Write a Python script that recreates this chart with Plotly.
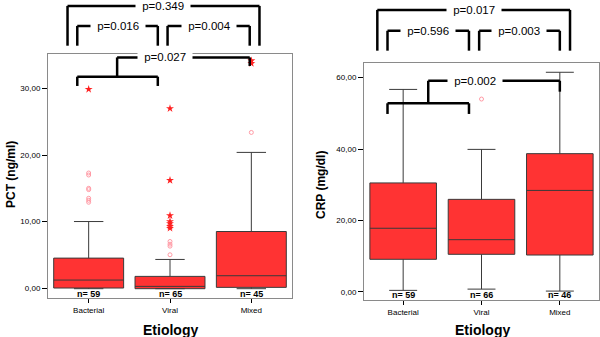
import plotly.graph_objects as go

# ---------------- data ----------------
categories = ["Bacterial", "Viral", "Mixed"]
cat_pos = [0, 1, 2]

pct_q1 = [0.0, -0.1, 0.1]
pct_median = [1.2, 0.25, 1.85]
pct_q3 = [4.5, 1.75, 8.5]
pct_lower = [-0.1, -0.1, -0.1]
pct_upper = [10.0, 4.3, 20.4]
pct_n = ["n= 59", "n= 65", "n= 45"]

pct_mild_bacterial = [12.9, 13.2, 13.5, 14.8, 15.0, 17.0, 17.3]
pct_mild_viral = [5.0, 6.3, 6.6, 7.0]
pct_mild_mixed = [23.4]
pct_ext_bacterial = [29.9]
pct_ext_viral = [9.0, 9.3, 9.7, 10.0, 10.9, 16.2, 27.0]
pct_ext_mixed = [33.8, 34.2]

crp_q1 = [9.1, 10.5, 10.3]
crp_median = [17.8, 14.6, 28.4]
crp_q3 = [30.5, 25.9, 38.7]
crp_lower = [0.4, 0.75, 0.2]
crp_upper = [56.7, 39.9, 61.5]
crp_n = ["n= 59", "n= 66", "n= 46"]
crp_mild_viral = [54.0]

pct_ticks = [0, 10, 20, 30]
pct_ticktext = ["0,00", "10,00", "20,00", "30,00"]
crp_ticks = [0, 20, 40, 60]
crp_ticktext = ["0,00", "20,00", "40,00", "60,00"]

# brackets: (x0, x1, y_line, y_leg, label)  x in category units, y in axis-domain units
pct_brackets = [(-0.26, 2.10, 1.197, 1.034, "p=0.349"),
                (-0.14, 0.85, 1.115, 1.034, "p=0.016"),
                (0.97, 1.98, 1.115, 1.034, "p=0.004")]
crp_brackets = [(-0.33, 2.13, 1.224, 1.052, "p=0.017"),
                (-0.20, 0.84, 1.136, 1.052, "p=0.596"),
                (0.97, 2.00, 1.136, 1.052, "p=0.003")]
# nested: (lx0, lx1, ly, lleg, stem_x, uy, ux1, uleg, text_x, label)
pct_nested = (-0.14, 0.85, 0.907, 0.869, 0.35, 0.986, 1.98, 0.951, 0.94, "p=0.027")
crp_nested = (-0.20, 0.84, 0.830, 0.785, 0.32, 0.925, 2.00, 0.879, 0.92, "p=0.002")

FONT = "Liberation Sans, Arial, sans-serif"
RED = "#ff3333"
EDGE = "#3a3a3a"
MILD = "#ff9aa5"
EXT = "#ff2020"

fig = go.Figure()


def add_box(xa, ya, q1, med, q3, lo, hi, width):
    fig.add_trace(go.Box(
        x=cat_pos, q1=q1, median=med, q3=q3, lowerfence=lo, upperfence=hi,
        width=width, whiskerwidth=0.42, fillcolor=RED,
        line=dict(color=EDGE, width=1), boxpoints=False,
        xaxis=xa, yaxis=ya, showlegend=False, hoverinfo="skip"))


def add_pts(xa, ya, idx, vals, kind):
    if kind == "mild":
        marker = dict(symbol="circle-open", size=4, color=MILD, line=dict(width=1))
    else:
        marker = dict(symbol="star", size=6, color=EXT)
    fig.add_trace(go.Scatter(x=[cat_pos[idx]] * len(vals), y=vals, mode="markers",
                             marker=marker, xaxis=xa, yaxis=ya, showlegend=False,
                             cliponaxis=False))


add_box("x", "y", pct_q1, pct_median, pct_q3, pct_lower, pct_upper, 0.86)
add_pts("x", "y", 0, pct_mild_bacterial, "mild")
add_pts("x", "y", 1, pct_mild_viral, "mild")
add_pts("x", "y", 2, pct_mild_mixed, "mild")
add_pts("x", "y", 0, pct_ext_bacterial, "ext")
add_pts("x", "y", 1, pct_ext_viral, "ext")
add_pts("x", "y", 2, pct_ext_mixed, "ext")

add_box("x2", "y2", crp_q1, crp_median, crp_q3, crp_lower, crp_upper, 0.85)
add_pts("x2", "y2", 1, crp_mild_viral, "mild")

shapes = []
annotations = []
LW = 2.5


def seg(xref, yref, x0, y0, x1, y1):
    shapes.append(dict(type="line", xref=xref, yref=yref, x0=x0, y0=y0, x1=x1, y1=y1,
                       line=dict(color="black", width=LW), layer="above"))


def ptext(xref, yref, x, y, text, pad=2):
    annotations.append(dict(xref=xref, yref=yref, x=x, y=y, text=text, showarrow=False,
                            font=dict(family=FONT, size=11.5, color="black"),
                            bgcolor="white", borderpad=pad, xanchor="center",
                            yanchor="middle"))


for xr, yr, brs, nest in [("x", "y domain", pct_brackets, pct_nested),
                          ("x2", "y2 domain", crp_brackets, crp_nested)]:
    for (x0, x1, yl, yleg, lab) in brs:
        seg(xr, yr, x0, yl, x1, yl)
        seg(xr, yr, x0, yl, x0, yleg)
        seg(xr, yr, x1, yl, x1, yleg)
        ptext(xr, yr, (x0 + x1) / 2, yl, "&nbsp;" + lab + "&nbsp;", pad=3)
    lx0, lx1, ly, lleg, sx, uy, ux1, uleg, tx, lab = nest
    seg(xr, yr, lx0, ly, lx1, ly)
    seg(xr, yr, lx0, ly, lx0, lleg)
    seg(xr, yr, lx1, ly, lx1, lleg)
    seg(xr, yr, sx, ly, sx, uy)
    seg(xr, yr, sx, uy, ux1, uy)
    seg(xr, yr, ux1, uy, ux1, uleg)
    ptext(xr, yr, tx, uy, "&nbsp;" + lab + "&nbsp;", pad=3)

# n labels
for xr, yr, labels, yv in [("x", "y", pct_n, -0.85), ("x2", "y2", crp_n, -0.95)]:
    for i, t in enumerate(labels):
        annotations.append(dict(xref=xr, yref=yr, x=cat_pos[i], y=yv, text="<b>" + t + "</b>",
                                showarrow=False, yanchor="middle", xanchor="center",
                                font=dict(family=FONT, size=9, color="black")))

# axis titles
title_font = dict(family=FONT, size=12, color="black")
annotations += [
    dict(xref="paper", yref="paper", x=11 / 600, y=1 - 175 / 337, text="<b>PCT (ng/ml)</b>",
         textangle=-90, showarrow=False, xanchor="center", yanchor="middle", font=title_font),
    dict(xref="paper", yref="paper", x=321 / 600, y=1 - 185 / 337, text="<b>CRP (mg/dl)</b>",
         textangle=-90, showarrow=False, xanchor="center", yanchor="middle", font=title_font),
    dict(xref="paper", yref="paper", x=170 / 600, y=1 - 330 / 337, text="<b>Etiology</b>",
         showarrow=False, xanchor="center", yanchor="middle",
         font=dict(family=FONT, size=14, color="black")),
    dict(xref="paper", yref="paper", x=482 / 600, y=1 - 330 / 337, text="<b>Etiology</b>",
         showarrow=False, xanchor="center", yanchor="middle",
         font=dict(family=FONT, size=14, color="black")),
]

axis_common = dict(showgrid=False, zeroline=False, showline=True, mirror=True,
                   linecolor="#8a8a8a", linewidth=1, ticks="outside", ticklen=5,
                   tickcolor="black", tickfont=dict(family=FONT, size=8, color="black"))

fig.update_layout(
    width=600, height=337, margin=dict(l=0, r=0, t=0, b=0),
    paper_bgcolor="white", plot_bgcolor="white", showlegend=False,
    xaxis=dict(domain=[48 / 600, 292 / 600], range=[-0.5, 2.5], tickvals=cat_pos,
               ticktext=categories, anchor="y", **axis_common),
    yaxis=dict(domain=[39 / 337, 283 / 337], range=[-1.5, 35.2], tickvals=pct_ticks,
               ticktext=pct_ticktext, anchor="x", **axis_common),
    xaxis2=dict(domain=[364 / 600, 599 / 600], range=[-0.5, 2.5], tickvals=cat_pos,
                ticktext=categories, anchor="y2", **axis_common),
    yaxis2=dict(domain=[37 / 337, 274 / 337], range=[-2.3, 64.1], tickvals=crp_ticks,
                ticktext=crp_ticktext, anchor="x2", **axis_common),
    shapes=shapes, annotations=annotations,
)
fig.update_xaxes(ticklen=4)

fig.write_html("out.html", config={"displayModeBar": False},
               post_script="document.body.style.margin='0';document.body.style.overflow='hidden';")
